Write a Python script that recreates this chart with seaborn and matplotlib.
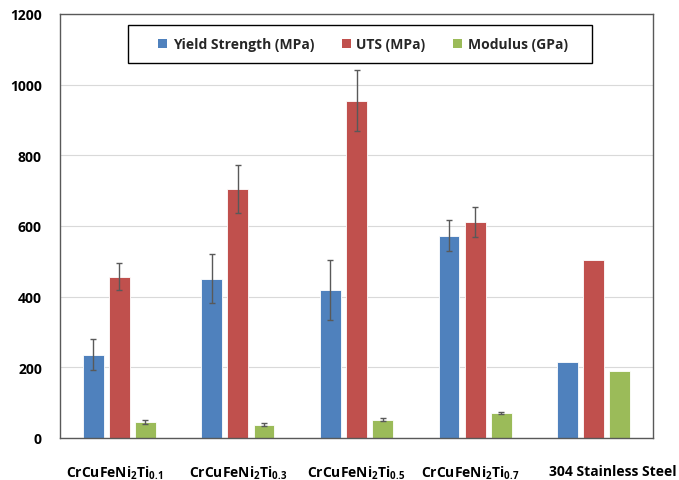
import numpy as np
import pandas as pd
import matplotlib
matplotlib.use("Agg")
import matplotlib.pyplot as plt
import matplotlib.transforms as mtransforms
import seaborn as sns
from matplotlib.patches import Patch, Rectangle

categories = [r"CrCuFeNi$_2$Ti$_{0.1}$", r"CrCuFeNi$_2$Ti$_{0.3}$",
              r"CrCuFeNi$_2$Ti$_{0.5}$", r"CrCuFeNi$_2$Ti$_{0.7}$",
              "304 Stainless Steel"]
series = ["Yield Strength (MPa)", "UTS (MPa)", "Modulus (GPa)"]
yield_vals = [236, 451, 419, 573, 214]
uts_vals = [457, 705, 955, 611, 505]
mod_vals = [46, 38, 52, 71, 191]
yield_err = [43, 70, 85, 44, 0]
uts_err = [39, 68, 87, 43, 0]
mod_err = [5, 5, 4, 3, 0]
colors = ["#4F81BD", "#C0504D", "#9BBB59"]
yticks = [0, 200, 400, 600, 800, 1000, 1200]

rows = []
for s, vals, errs in zip(series, [yield_vals, uts_vals, mod_vals], [yield_err, uts_err, mod_err]):
    for c, v, e in zip(categories, vals, errs):
        rows.append({"cat": c, "series": s, "value": v, "err": e})
df = pd.DataFrame(rows)

FONT = "Open Sans"
sns.set_style("white")
plt.rcParams["font.family"] = [FONT, "DejaVu Sans"]
plt.rcParams["font.weight"] = "bold"
plt.rcParams["mathtext.fontset"] = "custom"
plt.rcParams["mathtext.rm"] = FONT + ":bold"
plt.rcParams["mathtext.it"] = FONT + ":bold"
plt.rcParams["mathtext.bf"] = FONT + ":bold"
plt.rcParams["mathtext.default"] = "rm"

fig = plt.figure(figsize=(6.79, 4.81), dpi=100)
ax = fig.add_axes([60/679, 42/481, 593/679, 424/481])

sns.barplot(data=df, x="cat", y="value", hue="series", order=categories,
            hue_order=series, palette=colors, width=0.66, gap=0.2,
            errorbar=None, legend=False, ax=ax, saturation=1,
            edgecolor="#ffffff", linewidth=0.6, zorder=2)

for cont, s in zip(ax.containers, series):
    sub = df[df.series == s].set_index("cat").loc[categories]
    xs = [p.get_x() + p.get_width() / 2 for p in cont.patches]
    hs = [p.get_height() for p in cont.patches]
    for x, h, e in zip(xs, hs, sub["err"].values):
        if e > 0:
            ax.errorbar(x, h, yerr=e, fmt="none", ecolor="#595959",
                        elinewidth=1.0, capsize=2.5, capthick=1.0, zorder=3)

ax.set_ylim(0, 1200)
ax.set_yticks(yticks)
ax.set_yticklabels([str(t) for t in yticks])
ax.set_xlim(-0.5, 4.5)
ax.yaxis.grid(True, color="#d9d9d9", linewidth=0.8, zorder=0)
ax.set_axisbelow(True)
ax.set_xlabel("")
ax.set_ylabel("")
ax.tick_params(axis="both", length=0, labelsize=10, colors="#000000")
ax.tick_params(axis="x", pad=18.5)
ax.tick_params(axis="y", pad=13)
for lab in ax.get_xticklabels() + ax.get_yticklabels():
    lab.set_fontweight("bold")
label_shift_px = [-5, 0, 0, -5, 19]
for lab, dx in zip(ax.get_xticklabels(), label_shift_px):
    lab.set_transform(lab.get_transform() +
                      mtransforms.ScaledTranslation(dx / 100, 0, fig.dpi_scale_trans))
for sp in ax.spines.values():
    sp.set_visible(True)
    sp.set_color("#595959")
    sp.set_linewidth(1.0)

# legend frame (Excel style box)
ax.add_patch(Rectangle((0.1147, 0.884), 0.897 - 0.1147, 0.974 - 0.884,
                       transform=ax.transAxes, facecolor="white",
                       edgecolor="#000000", linewidth=1.0, zorder=4))
handles = [Patch(facecolor=c, edgecolor="none", label=s) for c, s in zip(colors, series)]
leg = ax.legend(handles=handles, loc="center", bbox_to_anchor=(0.511, 0.929),
                ncol=3, frameon=False,
                prop={"family": [FONT, "DejaVu Sans"], "weight": "bold", "size": 10},
                handlelength=0.65, handleheight=0.65, handletextpad=0.4,
                columnspacing=2.0, borderpad=0.0)
leg.set_zorder(5)

fig.savefig("out.png", dpi=100)
